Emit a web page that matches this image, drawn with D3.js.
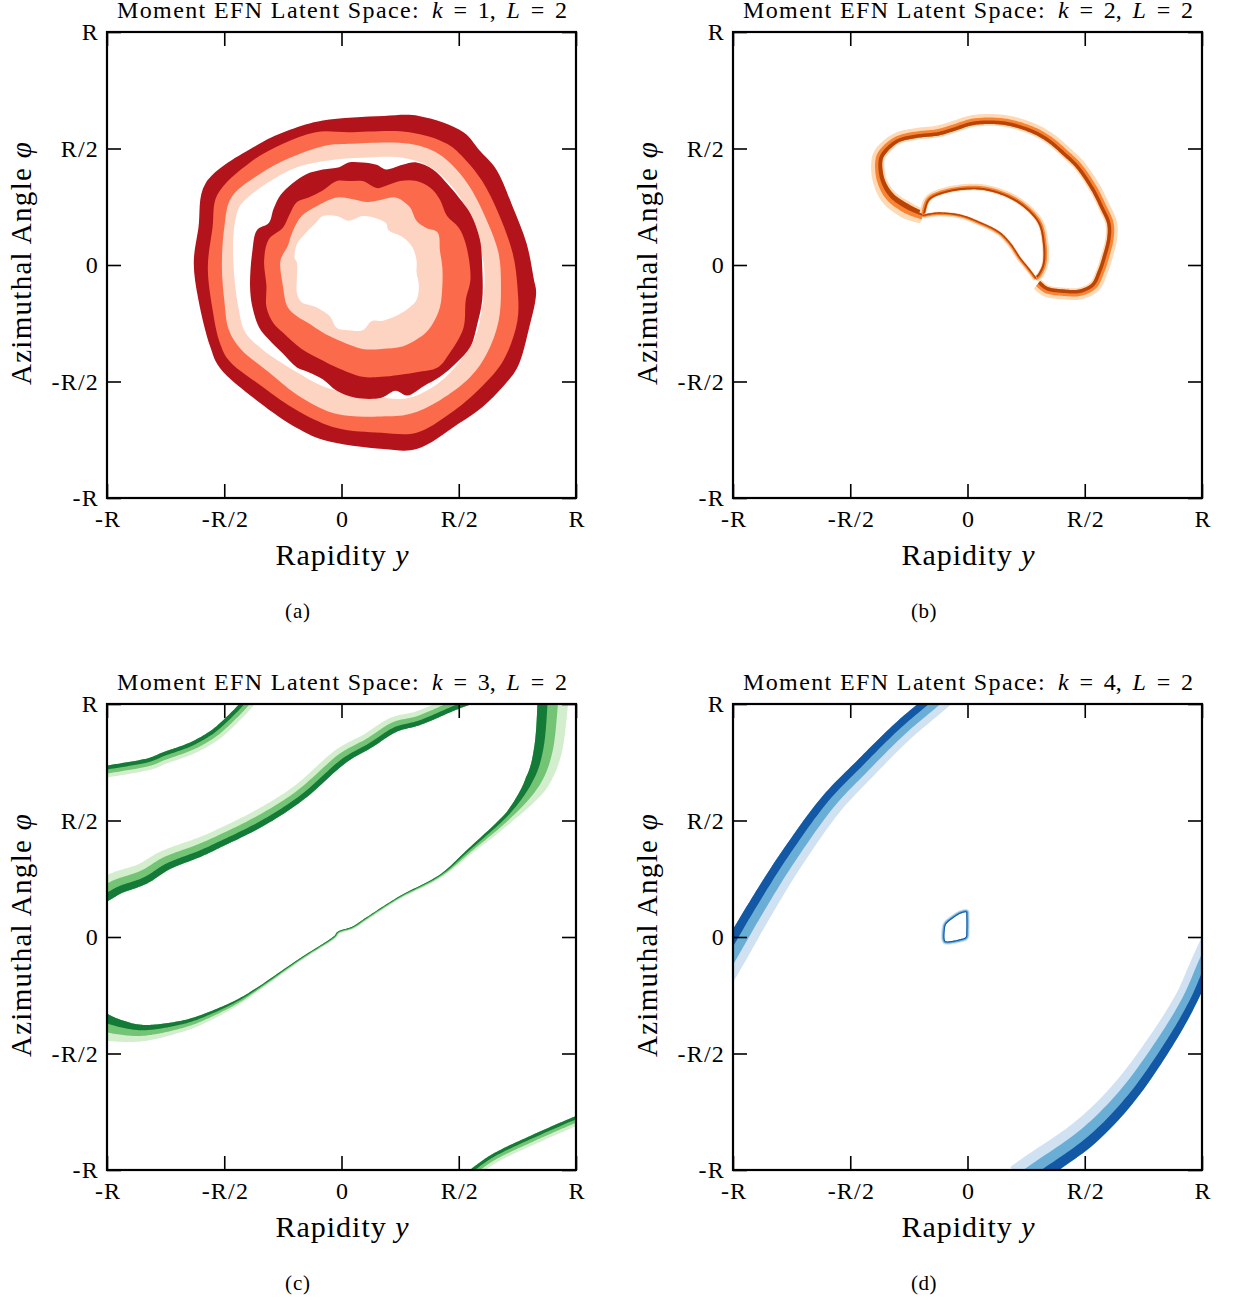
<!DOCTYPE html>
<html><head><meta charset="utf-8">
<script src="https://cdn.jsdelivr.net/npm/d3@7"></script>
<style>
body{margin:0;background:#fff}
svg{display:block}
</style>
</head><body>
<svg id="chart" width="1235" height="1300"></svg>
<script>
// ---------------- DATA (coordinates in units of R: [rapidity y, azimuth phi] ; optional 3rd value = band thickness in R) -------------
const tickValues = [-1, -0.5, 0, 0.5, 1];
const tickLabels = ["-R", "-R/2", "0", "R/2", "R"];
const kValues = [1, 2, 3, 4];
const LValue = 2;
const captions = ["(a)", "(b)", "(c)", "(d)"];

// Panel (a): nested filled contour boundaries
const aOuterDark = [[-0.58,0.35],[-0.35,0.52],[-0.22,0.58],[-0.08,0.62],[0.18,0.64],[0.33,0.64],[0.52,0.57],[0.59,0.49],[0.66,0.41],[0.73,0.25],[0.79,0.09],[0.82,-0.06],[0.83,-0.12],[0.80,-0.27],[0.75,-0.44],[0.69,-0.52],[0.60,-0.61],[0.50,-0.68],[0.32,-0.79],[0.18,-0.79],[-0.08,-0.75],[-0.19,-0.70],[-0.35,-0.59],[-0.52,-0.44],[-0.56,-0.35],[-0.61,-0.15],[-0.63,0.01],[-0.61,0.16]];
const aOuterMid = [[-0.57,-0.01],[-0.55,0.16],[-0.53,0.30],[-0.39,0.44],[-0.25,0.52],[-0.11,0.57],[0.03,0.57],[0.29,0.57],[0.45,0.52],[0.53,0.45],[0.60,0.36],[0.67,0.22],[0.73,0.05],[0.75,-0.09],[0.75,-0.24],[0.69,-0.41],[0.60,-0.52],[0.46,-0.64],[0.32,-0.72],[0.17,-0.72],[-0.02,-0.70],[-0.18,-0.63],[-0.34,-0.52],[-0.48,-0.41],[-0.52,-0.33],[-0.55,-0.19]];
const aOuterLight = [[-0.51,-0.01],[-0.50,0.16],[-0.47,0.29],[-0.35,0.39],[-0.22,0.46],[-0.08,0.51],[0.03,0.52],[0.29,0.52],[0.41,0.48],[0.49,0.41],[0.55,0.33],[0.62,0.19],[0.67,0.05],[0.68,-0.09],[0.67,-0.24],[0.62,-0.38],[0.55,-0.48],[0.42,-0.58],[0.29,-0.64],[0.17,-0.65],[-0.02,-0.64],[-0.17,-0.57],[-0.31,-0.46],[-0.43,-0.36],[-0.48,-0.28],[-0.50,-0.15]];
const aGap = [[-0.46,-0.01],[-0.46,0.14],[-0.44,0.24],[-0.42,0.27],[-0.32,0.35],[-0.19,0.42],[-0.05,0.45],[0.09,0.46],[0.26,0.46],[0.38,0.42],[0.46,0.35],[0.53,0.25],[0.58,0.12],[0.61,-0.03],[0.60,-0.18],[0.57,-0.31],[0.50,-0.42],[0.41,-0.51],[0.29,-0.57],[0.17,-0.57],[0.03,-0.55],[-0.08,-0.52],[-0.19,-0.46],[-0.34,-0.36],[-0.41,-0.29],[-0.44,-0.18]];
const aInnerDark = [[-0.39,-0.09],[-0.38,0.06],[-0.36,0.15],[-0.31,0.18],[-0.29,0.24],[-0.26,0.30],[-0.21,0.35],[-0.15,0.39],[-0.08,0.41],[-0.01,0.42],[0.03,0.44],[0.09,0.44],[0.15,0.43],[0.19,0.41],[0.26,0.43],[0.32,0.44],[0.39,0.41],[0.45,0.35],[0.50,0.29],[0.55,0.22],[0.59,0.11],[0.60,-0.01],[0.60,-0.15],[0.58,-0.25],[0.55,-0.35],[0.49,-0.42],[0.42,-0.48],[0.35,-0.52],[0.28,-0.56],[0.23,-0.54],[0.17,-0.57],[0.06,-0.57],[-0.02,-0.54],[-0.08,-0.49],[-0.14,-0.46],[-0.19,-0.44],[-0.25,-0.38],[-0.31,-0.32],[-0.35,-0.27],[-0.38,-0.18]];
const aInnerMid = [[-0.32,-0.09],[-0.33,0.02],[-0.31,0.11],[-0.25,0.16],[-0.22,0.22],[-0.19,0.27],[-0.14,0.29],[-0.08,0.32],[-0.02,0.36],[0.03,0.36],[0.09,0.36],[0.15,0.33],[0.19,0.34],[0.25,0.36],[0.32,0.36],[0.38,0.33],[0.42,0.28],[0.45,0.21],[0.50,0.16],[0.53,0.09],[0.55,-0.06],[0.53,-0.15],[0.52,-0.27],[0.46,-0.38],[0.41,-0.44],[0.32,-0.46],[0.17,-0.48],[0.09,-0.48],[-0.02,-0.44],[-0.08,-0.41],[-0.17,-0.36],[-0.25,-0.29],[-0.29,-0.25],[-0.32,-0.18]];
const aInnerLight = [[-0.25,-0.09],[-0.26,0.02],[-0.23,0.08],[-0.21,0.14],[-0.17,0.21],[-0.11,0.25],[-0.02,0.29],[0.06,0.28],[0.11,0.27],[0.17,0.28],[0.23,0.29],[0.29,0.25],[0.32,0.19],[0.36,0.16],[0.41,0.14],[0.42,0.06],[0.43,-0.01],[0.43,-0.09],[0.42,-0.18],[0.39,-0.25],[0.36,-0.29],[0.32,-0.32],[0.26,-0.35],[0.17,-0.36],[0.09,-0.36],[-0.02,-0.32],[-0.08,-0.29],[-0.14,-0.25],[-0.19,-0.22],[-0.23,-0.18]];
const aCenter = [[-0.19,0.01],[-0.20,0.03],[-0.19,0.09],[-0.15,0.14],[-0.11,0.18],[-0.08,0.21],[-0.02,0.21],[0.03,0.19],[0.09,0.21],[0.15,0.20],[0.19,0.18],[0.20,0.15],[0.26,0.12],[0.30,0.08],[0.32,0.02],[0.32,-0.03],[0.33,-0.09],[0.32,-0.15],[0.28,-0.19],[0.23,-0.22],[0.17,-0.24],[0.13,-0.24],[0.09,-0.28],[0.03,-0.28],[-0.02,-0.27],[-0.05,-0.22],[-0.11,-0.18],[-0.17,-0.16],[-0.19,-0.12],[-0.19,-0.05]];

// Panel (b): contour lines [y, phi, thickness]
const bOuter = [[-0.19,0.21,0.06],[-0.26,0.24,0.075],[-0.33,0.29,0.07],[-0.37,0.36,0.06],[-0.38,0.44,0.055],[-0.36,0.49,0.055],[-0.30,0.54,0.05],[-0.22,0.56,0.05],[-0.13,0.57,0.05],[-0.06,0.59,0.05],[0.02,0.615,0.05],[0.11,0.62,0.05],[0.19,0.61,0.05],[0.28,0.58,0.05],[0.35,0.54,0.05],[0.42,0.48,0.05],[0.48,0.42,0.05],[0.54,0.33,0.05],[0.58,0.25,0.05],[0.61,0.18,0.05],[0.61,0.11,0.05],[0.59,0.03,0.05],[0.57,-0.03,0.05],[0.54,-0.09,0.05],[0.48,-0.12,0.05],[0.41,-0.12,0.05],[0.34,-0.11,0.05],[0.30,-0.08,0.05]];
const bInnerUpper = [[-0.19,0.22,0.028],[-0.17,0.28,0.028],[-0.12,0.31,0.028],[-0.03,0.33,0.028],[0.07,0.33,0.028],[0.17,0.30,0.028],[0.25,0.25,0.028],[0.31,0.18,0.028],[0.33,0.09,0.028],[0.33,0.01,0.028],[0.31,-0.04,0.028],[0.29,-0.06,0.028]];
const bInnerLower = [[-0.19,0.21,0.02],[-0.12,0.22,0.02],[-0.03,0.21,0.02],[0.05,0.18,0.02],[0.13,0.14,0.02],[0.18,0.09,0.02],[0.22,0.03,0.02],[0.26,-0.02,0.02],[0.29,-0.06,0.02]];

// Panel (c)
const cTopLeft = [[-1.05,0.70,0.05],[-1.00,0.71,0.05],[-0.83,0.74,0.05],[-0.75,0.77,0.05],[-0.64,0.81,0.05],[-0.55,0.86,0.05],[-0.49,0.91,0.05],[-0.42,0.98,0.05],[-0.37,1.04,0.05]];
const cUpper = [[0.55,1.03,0.06],[0.47,1.00,0.06],[0.33,0.94,0.06],[0.22,0.91,0.065],[0.11,0.84,0.065],[-0.01,0.77,0.07],[-0.18,0.62,0.07],[-0.35,0.51,0.075],[-0.53,0.42,0.075],[-0.62,0.38,0.08],[-0.75,0.33,0.085],[-0.85,0.27,0.09],[-0.95,0.235,0.095],[-1.00,0.21,0.10],[-1.05,0.18,0.10]];
const cLower = [[-1.05,-0.36,0.11],[-1.00,-0.39,0.11],[-0.90,-0.41,0.08],[-0.82,-0.41,0.065],[-0.71,-0.39,0.05],[-0.61,-0.36,0.04],[-0.46,-0.29,0.025],[-0.35,-0.22,0.015],[-0.18,-0.10,0.011],[-0.04,-0.01,0.011],[-0.01,0.02,0.011],[0.05,0.04,0.011],[0.11,0.08,0.011],[0.25,0.17,0.011],[0.42,0.26,0.013],[0.55,0.37,0.025],[0.72,0.52,0.045],[0.83,0.66,0.10],[0.88,0.80,0.12],[0.90,0.99,0.13],[0.90,1.06,0.13]];
const cBottomRight = [[0.55,-1.03,0.04],[0.58,-1.00,0.04],[0.67,-0.94,0.04],[0.84,-0.86,0.04],[1.00,-0.79,0.04],[1.06,-0.77,0.04]];

// Panel (d)
const dUpperLeft = [[-1.055,-0.17,0.12],[-1.00,-0.08,0.115],[-0.89,0.11,0.11],[-0.76,0.32,0.105],[-0.59,0.56,0.10],[-0.43,0.73,0.095],[-0.28,0.88,0.093],[-0.14,1.00,0.093],[-0.06,1.07,0.093]];
const dLowerRight = [[0.22,-1.04,0.13],[0.29,-0.99,0.13],[0.50,-0.84,0.125],[0.67,-0.665,0.115],[0.82,-0.455,0.105],[0.93,-0.27,0.095],[1.00,-0.11,0.093],[1.055,0.01,0.093]];
const dLoop = [[-0.104,0.030,0.014],[-0.096,0.060,0.014],[-0.066,0.086,0.014],[-0.032,0.107,0.014],[-0.002,0.112,0.014],[0.002,0.086,0.014],[0.002,0.030,0.014],[-0.002,-0.004,0.014],[-0.032,-0.017,0.014],[-0.087,-0.026,0.014],[-0.104,-0.013,0.014]];

// ---------------- STYLE ----------------
const FONT = "'Liberation Serif','Times New Roman',serif";
const reds = ["#fdd3c1", "#fb6a4a", "#b3141b"];
const oranges = ["#fdd9b5", "#f88434", "#ba4406"];
const greens = ["#d3eecd", "#74c476", "#137a38"];
const blues = ["#d0e1f2", "#6aaed6", "#1358a4"];
const W = 469, H = 466;
const panels = [{left:107, top:32, cx:298}, {left:733, top:32, cx:924}, {left:107, top:704, cx:298}, {left:733, top:704, cx:924}];
// band layouts: [colorIndex, from, to] in units of thickness, positive = dark side
const layoutThin = [[0,-0.55,0.45],[1,-0.25,0.3],[2,0,0.3]];
const layoutStd = [[0,-0.5,0.5],[1,-0.17,0.5],[2,0.17,0.5]];

const svg = d3.select("#chart");

function sampleCurve(pts, closed, x, y) {
  const P = pts.map(d => [x(d[0]), y(d[1]), x(d[2]) - x(0)]);
  const n = P.length, out = [];
  const get = i => closed ? P[(i + n) % n] : P[Math.max(0, Math.min(n - 1, i))];
  const segs = closed ? n : n - 1;
  const steps = 14;
  for (let i = 0; i < segs; i++) {
    const p0 = get(i - 1), p1 = get(i), p2 = get(i + 1), p3 = get(i + 2);
    for (let s = 0; s < steps; s++) {
      const t = s / steps, t2 = t * t, t3 = t2 * t;
      const c = k => 0.5 * (2 * p1[k] + (-p0[k] + p2[k]) * t + (2 * p0[k] - 5 * p1[k] + 4 * p2[k] - p3[k]) * t2 + (-p0[k] + 3 * p1[k] - 3 * p2[k] + p3[k]) * t3);
      out.push([c(0), c(1), p1[2] + (p2[2] - p1[2]) * t]);
    }
  }
  if (!closed) out.push(P[n - 1]);
  return out;
}

function ribbonPath(S, closed, side, from, to) {
  const n = S.length, A = [], B = [];
  for (let i = 0; i < n; i++) {
    const prev = closed ? S[(i - 1 + n) % n] : S[Math.max(0, i - 1)];
    const next = closed ? S[(i + 1) % n] : S[Math.min(n - 1, i + 1)];
    let tx = next[0] - prev[0], ty = next[1] - prev[1];
    const L = Math.hypot(tx, ty) || 1; tx /= L; ty /= L;
    const nx = ty, ny = -tx, w = S[i][2];
    A.push([S[i][0] + nx * side * from * w, S[i][1] + ny * side * from * w]);
    B.push([S[i][0] + nx * side * to * w, S[i][1] + ny * side * to * w]);
  }
  const f = p => p[0].toFixed(2) + "," + p[1].toFixed(2);
  if (closed) return "M" + A.map(f).join("L") + "Z M" + B.map(f).join("L") + "Z";
  return "M" + A.map(f).join("L") + "L" + B.reverse().map(f).join("L") + "Z";
}

function drawRibbon(g, pts, closed, side, layout, colors, x, y) {
  const S = sampleCurve(pts, closed, x, y);
  layout.forEach(([ci, from, to]) => {
    g.append("path").attr("d", ribbonPath(S, closed, side, from, to))
      .attr("fill", colors[ci]).attr("fill-rule", "evenodd").attr("stroke", "none");
  });
}

function fitLetters(sel, target) {
  const node = sel.node();
  const len = node.getComputedTextLength();
  const n = node.textContent.length;
  sel.attr("letter-spacing", ((target - len) / n).toFixed(2));
}
function fitWords(sel, target) {
  const node = sel.node();
  const len = node.getComputedTextLength();
  const n = (node.textContent.match(/ /g) || []).length || 1;
  sel.attr("word-spacing", ((target - len) / n).toFixed(2));
}

const drawers = [
  (g, x, y) => {
    const line = d3.line().x(d => x(d[0])).y(d => y(d[1])).curve(d3.curveCatmullRomClosed.alpha(0.5));
    const seq = [[aOuterDark, reds[2]], [aOuterMid, reds[1]], [aOuterLight, reds[0]], [aGap, "#ffffff"],
                 [aInnerDark, reds[2]], [aInnerMid, reds[1]], [aInnerLight, reds[0]], [aCenter, "#ffffff"]];
    seq.forEach(([pts, col]) => g.append("path").attr("d", line(pts)).attr("fill", col).attr("stroke", "none"));
  },
  (g, x, y) => {
    drawRibbon(g, bOuter, false, -1, layoutThin, oranges, x, y);
    drawRibbon(g, bInnerUpper, false, -1, layoutThin, oranges, x, y);
    drawRibbon(g, bInnerLower, false, 1, layoutThin, oranges, x, y);
  },
  (g, x, y) => {
    drawRibbon(g, cTopLeft, false, 1, layoutStd, greens, x, y);
    drawRibbon(g, cUpper, false, 1, layoutStd, greens, x, y);
    drawRibbon(g, cLower, false, 1, layoutStd, greens, x, y);
    drawRibbon(g, cBottomRight, false, 1, layoutStd, greens, x, y);
  },
  (g, x, y) => {
    drawRibbon(g, dUpperLeft, false, 1, layoutStd, blues, x, y);
    drawRibbon(g, dLowerRight, false, -1, layoutStd, blues, x, y);
    drawRibbon(g, dLoop, true, -1, layoutStd, blues, x, y);
  }
];

panels.forEach((p, i) => {
  const x = d3.scaleLinear().domain([-1, 1]).range([p.left, p.left + W]);
  const y = d3.scaleLinear().domain([-1, 1]).range([p.top + H, p.top]);
  const g = svg.append("g");
  g.append("clipPath").attr("id", "clip" + i).append("rect")
    .attr("x", p.left).attr("y", p.top).attr("width", W).attr("height", H);
  const content = g.append("g").attr("clip-path", `url(#clip${i})`);
  drawers[i](content, x, y);

  const fmt = d => tickLabels[tickValues.indexOf(d)];
  const styleAxis = sel => {
    sel.select(".domain").remove();
    sel.attr("font-family", FONT).attr("font-size", 24);
    sel.selectAll(".tick line").attr("stroke", "#000").attr("stroke-width", 1.6);
    sel.selectAll(".tick text").attr("fill", "#000").attr("letter-spacing", 1.2);
  };
  const xa = g.append("g").attr("transform", `translate(0,${p.top + H})`)
    .call(d3.axisBottom(x).tickValues(tickValues).tickFormat(fmt).tickSizeInner(-14).tickSizeOuter(0).tickPadding(12)).call(styleAxis);
  xa.selectAll(".tick text").attr("dx", "0.6");
  g.append("g").attr("transform", `translate(${p.left},0)`)
    .call(d3.axisLeft(y).tickValues(tickValues).tickFormat(fmt).tickSizeInner(-14).tickSizeOuter(0).tickPadding(8)).call(styleAxis);
  g.append("g").attr("transform", `translate(0,${p.top})`)
    .call(d3.axisTop(x).tickValues(tickValues).tickFormat("").tickSizeInner(-14).tickSizeOuter(0)).call(styleAxis);
  g.append("g").attr("transform", `translate(${p.left + W},0)`)
    .call(d3.axisRight(y).tickValues(tickValues).tickFormat("").tickSizeInner(-14).tickSizeOuter(0)).call(styleAxis);

  g.append("rect").attr("x", p.left).attr("y", p.top).attr("width", W).attr("height", H)
    .attr("fill", "none").attr("stroke", "#000").attr("stroke-width", 2.2);

  // title: text part and math part
  const ty = p.top - 14;
  const t1 = g.append("text").attr("x", p.left + 10).attr("y", ty)
    .attr("font-family", FONT).attr("font-size", 24).text("Moment EFN Latent Space:");
  fitLetters(t1, 303);
  const t2 = g.append("text").attr("x", p.left + 325).attr("y", ty)
    .attr("font-family", FONT).attr("font-size", 24);
  t2.append("tspan").attr("font-style", "italic").text("k");
  t2.append("tspan").text(" = " + kValues[i] + ", ");
  t2.append("tspan").attr("font-style", "italic").text("L");
  t2.append("tspan").text(" = " + LValue);
  fitWords(t2, 135);

  // x label
  const xl = g.append("text").attr("x", p.left + W / 2 + 1).attr("y", p.top + H + 67)
    .attr("text-anchor", "middle").attr("font-family", FONT).attr("font-size", 30);
  xl.append("tspan").text("Rapidity ");
  xl.append("tspan").attr("font-style", "italic").text("y");
  fitLetters(xl, 134);

  // y label
  const yl = g.append("text").attr("transform", `translate(${p.left - 76},${p.top + H / 2 - 2}) rotate(-90)`)
    .attr("text-anchor", "middle").attr("font-family", FONT).attr("font-size", 29);
  yl.append("tspan").text("Azimuthal Angle ");
  yl.append("tspan").attr("font-style", "italic").text("φ");
  fitLetters(yl, 244);

  // caption
  const cap = g.append("text").attr("x", p.cx).attr("y", p.top + H + 120).attr("text-anchor", "middle")
    .attr("font-family", FONT).attr("font-size", 21).text(captions[i]);
  fitLetters(cap, 26);
});
</script>
</body></html>
